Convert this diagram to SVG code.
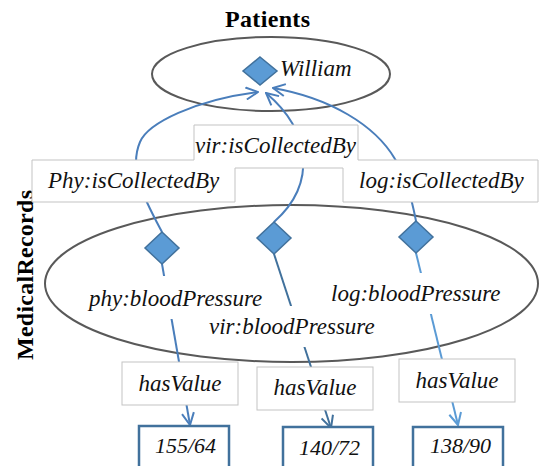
<svg xmlns="http://www.w3.org/2000/svg" width="541" height="466" viewBox="0 0 541 466">
  <style>
    .t{font-family:"Liberation Serif","Times New Roman",serif;font-style:italic;font-size:23px;fill:#111}
    .v{font-family:"Liberation Serif","Times New Roman",serif;font-style:italic;font-size:22px;fill:#111}
    .title{font-family:"Liberation Serif","Times New Roman",serif;font-weight:bold;font-size:24px;fill:#000}
    .set{fill:none;stroke:#595959;stroke-width:2}
    .dia{fill:#5b9bd5;stroke:#41719c;stroke-width:1.5}
    .lbl{fill:#fff;stroke:#c3c3c3;stroke-width:1}
    .val{fill:#fff;stroke:#41719c;stroke-width:2.5}
    .edge{fill:none;stroke-width:2}
    .mask{fill:#fff;stroke:none}
  </style>
  <defs>
    <marker id="ahMid" viewBox="0 0 14 14" refX="13" refY="7" markerWidth="14" markerHeight="14" markerUnits="userSpaceOnUse" orient="auto">
      <path d="M1,1 L13,7 L1,13" fill="none" stroke="#4a7ebb" stroke-width="2"/>
    </marker>
    <marker id="ahDark" viewBox="0 0 14 14" refX="13" refY="7" markerWidth="14" markerHeight="14" markerUnits="userSpaceOnUse" orient="auto">
      <path d="M1,1 L13,7 L1,13" fill="none" stroke="#41719c" stroke-width="2"/>
    </marker>
    <marker id="ahLight" viewBox="0 0 14 14" refX="13" refY="7" markerWidth="14" markerHeight="14" markerUnits="userSpaceOnUse" orient="auto">
      <path d="M1,1 L13,7 L1,13" fill="none" stroke="#5b9bd5" stroke-width="2"/>
    </marker>
  </defs>

  <!-- class containers -->
  <g id="patients">
    <text class="title" x="267.5" y="27" text-anchor="middle" textLength="85" lengthAdjust="spacing">Patients</text>
    <ellipse class="set" cx="271" cy="74" rx="119" ry="37"/>
  </g>
  <g id="medicalRecords">
    <text class="title" font-size="24.5" transform="translate(33,275) rotate(-90)" text-anchor="middle" textLength="170" lengthAdjust="spacing">MedicalRecords</text>
    <ellipse class="set" cx="291.5" cy="283.5" rx="246.5" ry="78.5"/>
  </g>

  <!-- connectors -->
  <g id="connectors">
    <path class="edge" stroke="#4a7ebb" marker-end="url(#ahMid)" d="M162,232 C145,200 128,170 140,142 C148,123 195,100 258,92"/>
    <path class="edge" stroke="#4a7ebb" marker-end="url(#ahMid)" d="M274,222 C318,183 310,130 266,93"/>
    <path class="edge" stroke="#4a7ebb" marker-end="url(#ahMid)" d="M416,221 C412,200 405,175 395,159 C375,125 330,98 273,88"/>
    <path class="edge" stroke="#4a7ebb" marker-end="url(#ahMid)" d="M162,264 L190,425"/>
    <path class="edge" stroke="#41719c" marker-end="url(#ahDark)" d="M274,254 L331,428"/>
    <path class="edge" stroke="#5b9bd5" marker-end="url(#ahLight)" d="M416,253 L458,425"/>
  </g>

  <!-- connector labels -->
  <g id="isCollectedBy-labels">
    <path class="lbl" d="M32,160 H194 V125 H358 V160 H538 V202 H343 V168 H235 V202 H32 Z"/>
    <text class="t" x="48" y="188">Phy:isCollectedBy</text>
    <text class="t" x="195" y="153">vir:isCollectedBy</text>
    <text class="t" x="359" y="188">log:isCollectedBy</text>
  </g>
  <g id="bloodPressure-labels">
    <rect class="mask" x="82" y="276" width="194" height="43"/>
    <text class="t" x="89" y="306">phy:bloodPressure</text>
    <rect class="mask" x="200" y="306" width="188" height="41"/>
    <text class="t" x="209" y="334">vir:bloodPressure</text>
    <rect class="mask" x="322" y="273" width="186" height="41"/>
    <text class="t" x="331" y="301">log:bloodPressure</text>
  </g>
  <g id="hasValue-labels">
    <rect class="lbl" x="122" y="362" width="116" height="43"/>
    <text class="t" x="180" y="391" text-anchor="middle">hasValue</text>
    <rect class="lbl" x="257" y="367" width="116" height="43"/>
    <text class="t" x="315" y="395" text-anchor="middle">hasValue</text>
    <rect class="lbl" x="399" y="359" width="116" height="43"/>
    <text class="t" x="457" y="388" text-anchor="middle">hasValue</text>
  </g>

  <!-- individuals -->
  <g id="william">
    <path class="dia" d="M260,57 L277,71 L260,85 L243,71 Z"/>
    <text class="t" x="280" y="76">William</text>
  </g>
  <g id="phyRecord">
    <path class="dia" d="M162,232 L179,248 L162,264 L145,248 Z"/>
  </g>
  <g id="virRecord">
    <path class="dia" d="M274,222 L291,238 L274,254 L257,238 Z"/>
  </g>
  <g id="logRecord">
    <path class="dia" d="M416,221 L433,237 L416,253 L399,237 Z"/>
  </g>

  <!-- literal values -->
  <g id="value-155-64">
    <rect class="val" x="139" y="426" width="90" height="50"/>
    <text class="v" x="155" y="453">155/64</text>
  </g>
  <g id="value-140-72">
    <rect class="val" x="283" y="427" width="90" height="50"/>
    <text class="v" x="299" y="455">140/72</text>
  </g>
  <g id="value-138-90">
    <rect class="val" x="413" y="427" width="90" height="50"/>
    <text class="v" x="430" y="453">138/90</text>
  </g>
</svg>
